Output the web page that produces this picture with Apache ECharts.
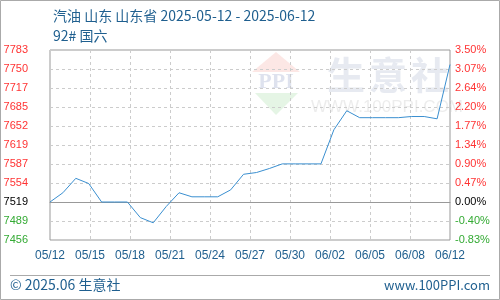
<!DOCTYPE html>
<html><head><meta charset="utf-8">
<script src="https://cdn.jsdelivr.net/npm/echarts@6/dist/echarts.min.js"></script>
<style>html,body{margin:0;padding:0;background:#fff}#c{width:500px;height:300px}</style>
</head><body><div id="c"></div>
<script>
var dates = ['05/12','05/13','05/14','05/15','05/16','05/17','05/18','05/19','05/20','05/21','05/22','05/23','05/24','05/25','05/26','05/27','05/28','05/29','05/30','05/31','06/01','06/02','06/03','06/04','06/05','06/06','06/07','06/08','06/09','06/10','06/11','06/12'];
var prices = [7519,7535,7560,7551,7519,7519,7519,7492,7483,7511,7535,7528,7528,7528,7540,7567,7570,7577,7585,7585,7585,7585,7644,7677,7665,7665,7665,7665,7667,7667,7663,7757];
var basePrice = 7519;
var xTickLabels = ['05/12','05/15','05/18','05/21','05/24','05/27','05/30','06/02','06/05','06/08','06/12'];
var leftTickLabels = ['7456','7489','7519','7554','7587','7619','7652','7685','7717','7750','7783'];
var rightTickLabels = ['-0.83%','-0.40%','0.00%','0.47%','0.90%','1.34%','1.77%','2.20%','2.64%','3.07%','3.50%'];
var zeroTickIndex = 2;

var yStep = 3.5 / 8;
var yMin = -2 * yStep, yMax = 8 * yStep;
var xStep = (dates.length - 1) / 10;

var data = prices.map(function (p, i) { return [i, (p / basePrice - 1) * 100]; });

function yLabel(arr) {
  return function (v) {
    var k = Math.round((v - yMin) / yStep);
    var s = arr[k];
    if (s === undefined) return '';
    return k > zeroTickIndex ? '{r|' + s + '}' : (k === zeroTickIndex ? '{k|' + s + '}' : '{g|' + s + '}');
  };
}
var rich = { r: { color: '#ff3333' }, k: { color: '#000' }, g: { color: '#33aa33' } };
var labFont = 'Liberation Sans';

var chart = echarts.init(document.getElementById('c'), null, { renderer: 'canvas' });
chart.setOption({
  animation: false,
  title: [
    { text: '汽油 山东 山东省 2025-05-12 - 2025-06-12', left: 48, top: 4, textStyle: { fontFamily: 'Noto Sans CJK SC', fontSize: 14, fontWeight: 'normal', color: '#1f5f8f' } },
    { text: '92# 国六', left: 48, top: 24, textStyle: { fontFamily: 'Noto Sans CJK SC', fontSize: 14, fontWeight: 'normal', color: '#1f5f8f' } }
  ],
  grid: { left: 50, right: 50, top: 50, bottom: 60, show: true, borderColor: '#999', borderWidth: 1, backgroundColor: 'transparent' },
  xAxis: {
    type: 'value', min: 0, max: dates.length - 1, interval: xStep,
    axisLine: { onZero: true, lineStyle: { color: '#999', width: 1 } },
    axisTick: { show: false },
    splitLine: { show: true, lineStyle: { color: '#ccc', type: [3, 3] } },
    axisLabel: {
      margin: 10, fontFamily: labFont, fontSize: 12, color: '#1f5f8f',
      formatter: function (v) { var s = xTickLabels[Math.round(v / xStep)]; return s === undefined ? '' : s; }
    }
  },
  yAxis: [
    { type: 'value', position: 'left', min: yMin, max: yMax, interval: yStep,
      axisLine: { show: false }, axisTick: { show: false },
      splitLine: { show: true, lineStyle: { color: '#ccc', type: [3, 3] } },
      axisLabel: { margin: 22, fontFamily: labFont, fontSize: 11, formatter: yLabel(leftTickLabels), rich: rich } },
    { type: 'value', position: 'right', min: yMin, max: yMax, interval: yStep,
      axisLine: { show: false }, axisTick: { show: false }, splitLine: { show: false },
      axisLabel: { margin: 5, fontFamily: labFont, fontSize: 11, formatter: yLabel(rightTickLabels), rich: rich } }
  ],
  graphic: [
    { type: 'polygon', shape: { points: [[276, 52], [300, 72], [252, 72]] }, style: { fill: 'rgba(240,120,110,0.18)' }, silent: true },
    { type: 'text', style: { text: 'PPI', x: 276, y: 82, align: 'center', verticalAlign: 'middle', font: 'bold 22px "Liberation Serif"', fill: 'rgba(90,110,170,0.2)' }, silent: true },
    { type: 'polygon', shape: { points: [[255, 93], [298, 93], [276, 115]] }, style: { fill: 'rgba(110,200,110,0.18)' }, silent: true },
    { type: 'text', style: { text: '生', x: 346, y: 75, align: 'center', verticalAlign: 'middle', font: 'bold 38px "Noto Sans CJK SC"', fill: 'rgba(120,140,180,0.18)' }, silent: true },
    { type: 'text', style: { text: '意', x: 388, y: 75, align: 'center', verticalAlign: 'middle', font: 'bold 38px "Noto Sans CJK SC"', fill: 'rgba(120,140,180,0.18)' }, silent: true },
    { type: 'text', style: { text: '社', x: 430, y: 75, align: 'center', verticalAlign: 'middle', font: 'bold 38px "Noto Sans CJK SC"', fill: 'rgba(120,140,180,0.18)' }, silent: true },
    { type: 'text', style: { text: 'WWW.100PPI.COM', x: 387, y: 107, align: 'center', verticalAlign: 'middle', font: '17px "Liberation Sans"', fill: 'rgba(150,150,150,0.18)' }, silent: true },
    { type: 'line', shape: { x1: 10, y1: 275.5, x2: 490, y2: 275.5 }, style: { stroke: '#aaa', lineWidth: 1 }, silent: true },
    { type: 'text', style: { text: '© 2025.06 生意社', x: 10, y: 285, verticalAlign: 'middle', font: '14px "Noto Sans CJK SC"', fill: '#1f5f8f' }, silent: true },
    { type: 'text', style: { text: 'www.100PPI.com', x: 490, y: 285, align: 'right', verticalAlign: 'middle', font: '13px "Noto Sans CJK SC"', fill: '#1f5f8f' }, silent: true },
    { type: 'rect', shape: { x: 0.5, y: 0.5, width: 499, height: 299 }, style: { fill: 'none', stroke: '#aaa', lineWidth: 1 }, silent: true }
  ],
  series: [{
    type: 'line', data: data, yAxisIndex: 0, symbol: 'none', showSymbol: false,
    lineStyle: { color: '#3a8fd0', width: 1 }, z: 5
  }]
});
</script></body></html>
